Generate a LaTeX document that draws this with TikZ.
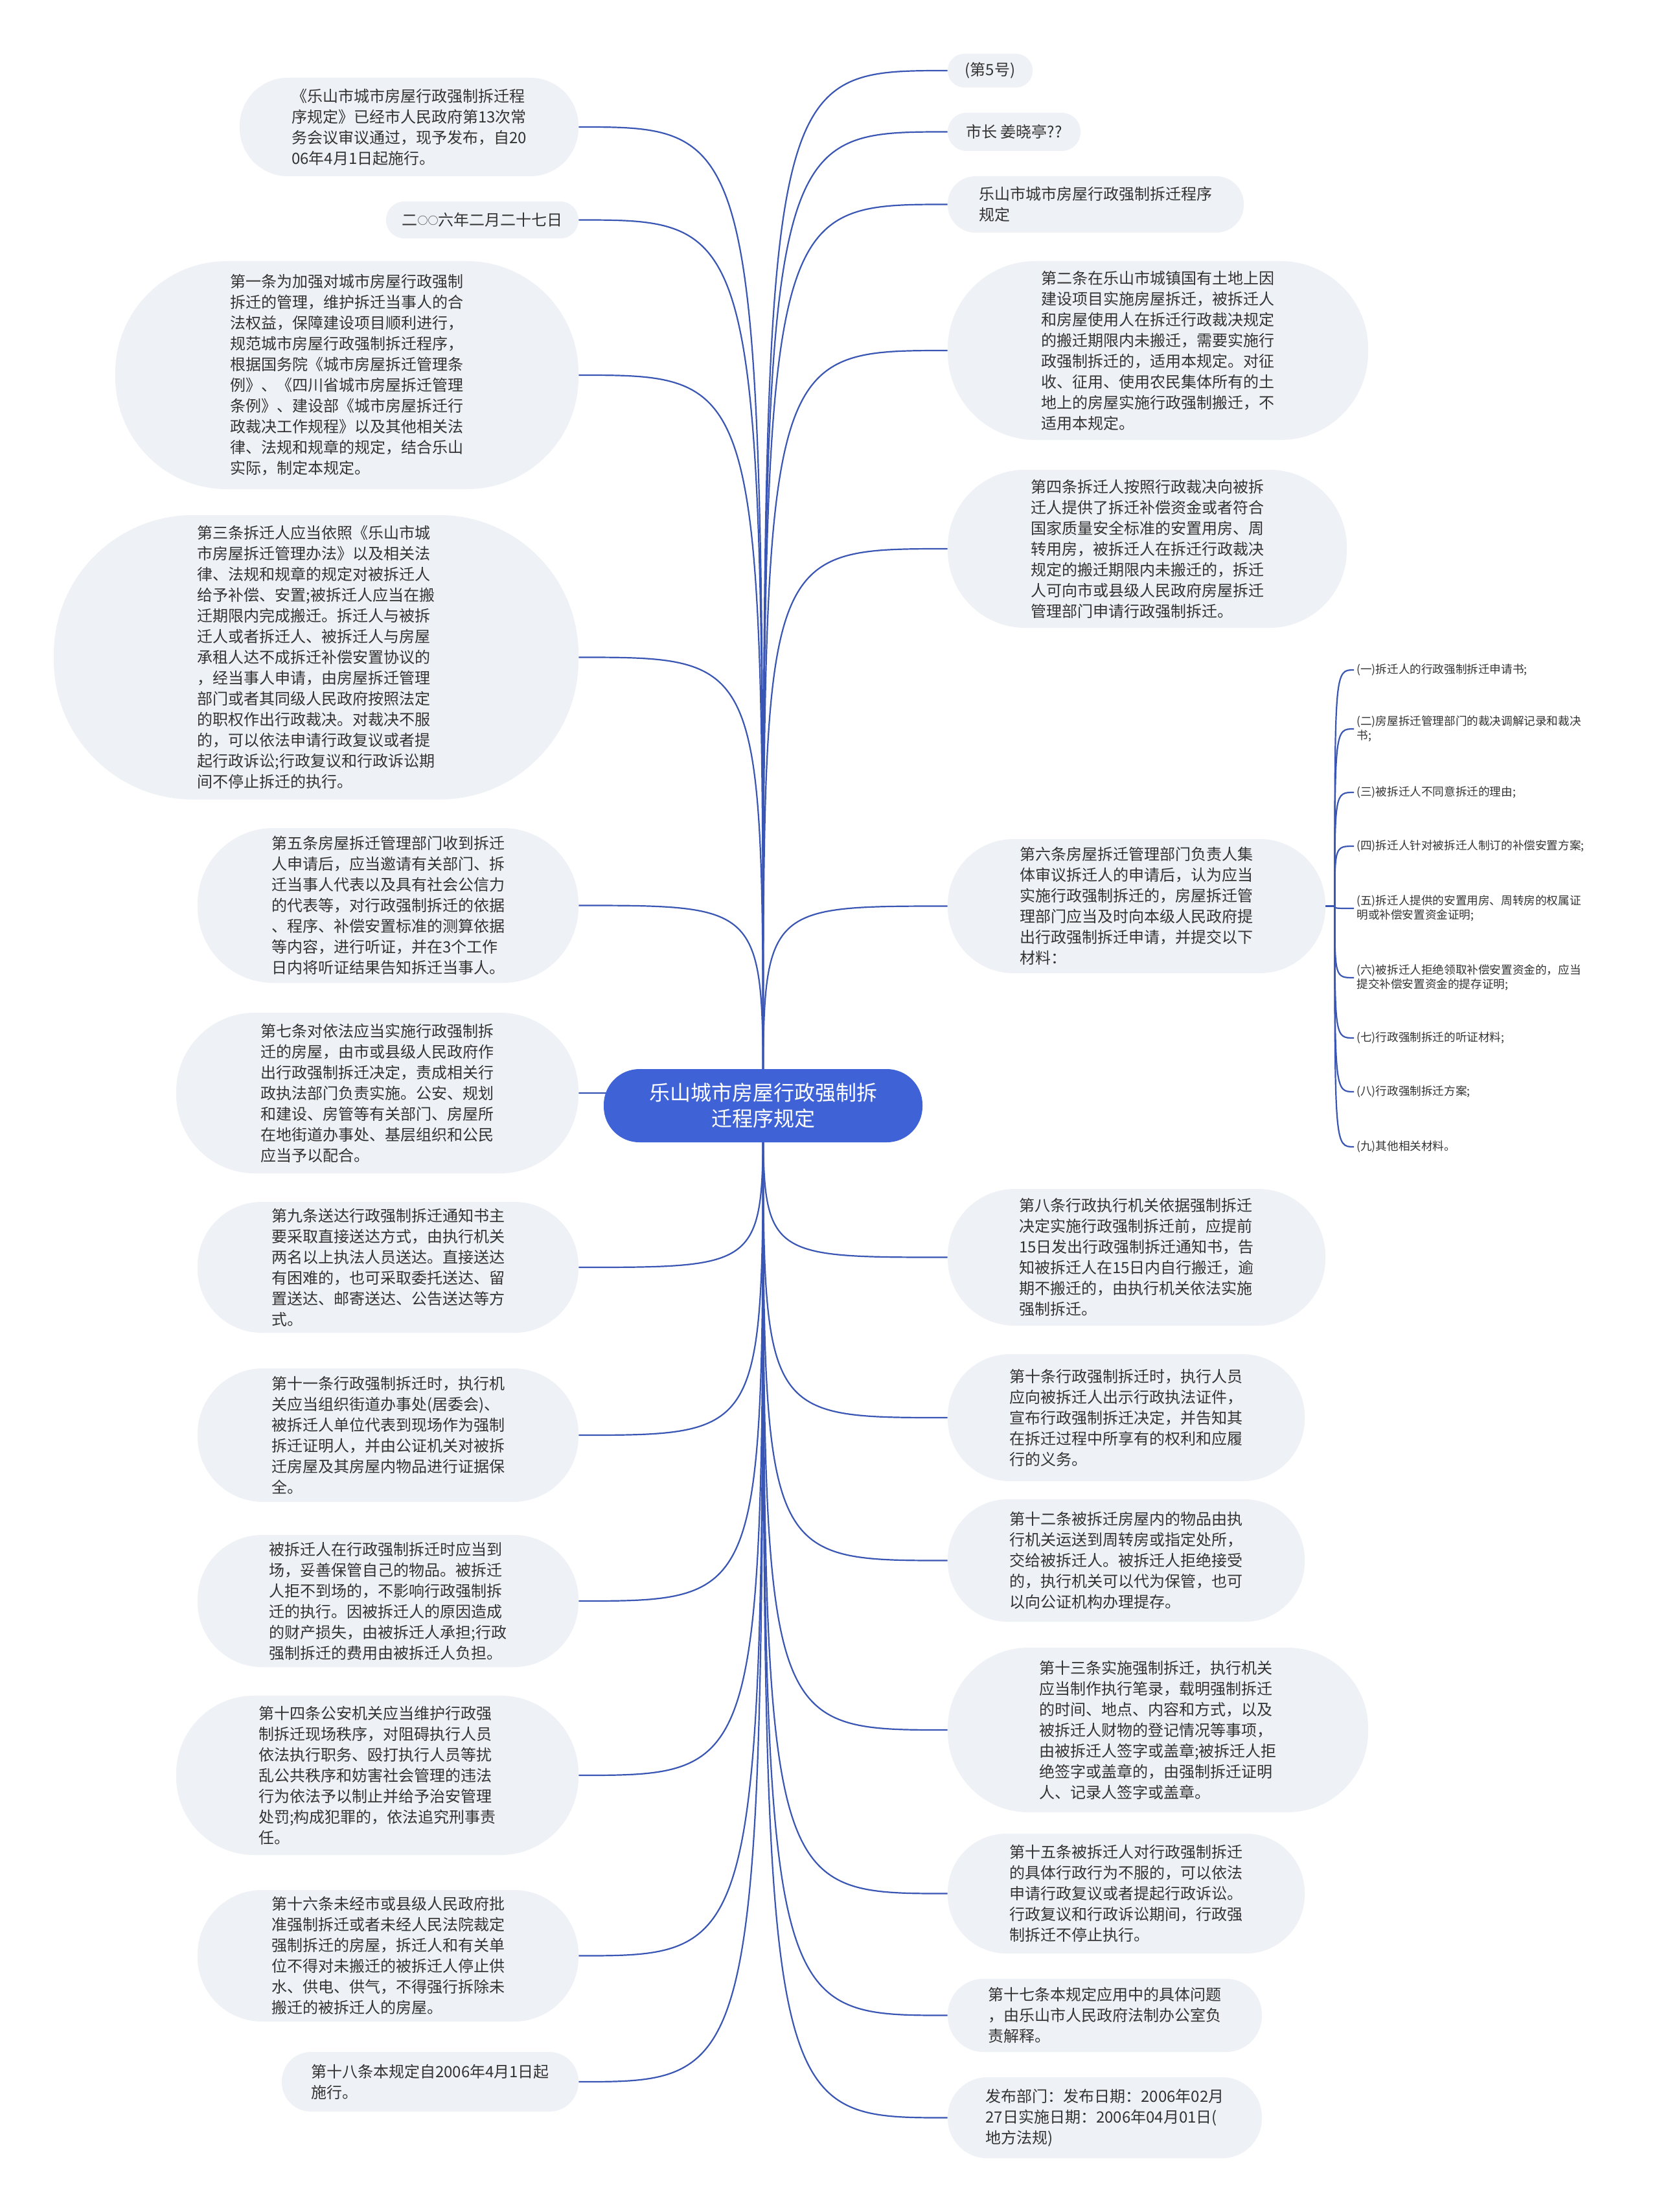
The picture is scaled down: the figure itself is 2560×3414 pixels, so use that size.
\documentclass[tikz,border=0pt]{standalone}
\usepackage{fontspec}
\setmainfont{Noto Sans CJK SC}
\usetikzlibrary{backgrounds}
\definecolor{nodefill}{HTML}{EEF1F5}
\definecolor{linecol}{HTML}{3A56B4}
\definecolor{rootfill}{HTML}{3F62D6}
\definecolor{txt}{HTML}{333333}
\begin{document}
\begin{tikzpicture}[x=0.5pt,y=-0.5pt,
  pill/.style 2 args={fill=nodefill, text=txt, align=left, inner sep=0pt,
    minimum width=#1, minimum height=#2, rounded corners=0.49*#2,
    font=\fontsize{12}{16}\selectfont},
  rootbox/.style={fill=rootfill, text=white, align=center, inner sep=0pt,
    minimum width=246pt, minimum height=56.5pt, rounded corners=27.5pt,
    font=\fontsize{16}{20}\selectfont},
  conn/.style={draw=linecol, line width=1.1pt},
  subitem/.style={text=txt, align=left, inner sep=2pt, anchor=west,
    font=\fontsize{8.8}{11}\selectfont}
]
\useasboundingbox (0,0) rectangle (2560,3414);

% root
\node[rootbox] (root) at (1178,1706.5) {乐山城市房屋行政强制拆\\迁程序规定};

% left
\node[pill={261.5pt}{76pt}] (l1) at (631.5,196) {《乐山市城市房屋行政强制拆迁程\\序规定》已经市人民政府第13次常\\务会议审议通过，现予发布，自20\\06年4月1日起施行。};
\node[pill={148.5pt}{28.5pt}] (l2) at (744.5,339.5) {二\raisebox{1pt}{\fontsize{8}{8}\selectfont ○○}六年二月二十七日};
\node[pill={357.5pt}{176pt}] (l3) at (535.5,579) {第一条为加强对城市房屋行政强制\\拆迁的管理，维护拆迁当事人的合\\法权益，保障建设项目顺利进行，\\规范城市房屋行政强制拆迁程序，\\根据国务院《城市房屋拆迁管理条\\例》、《四川省城市房屋拆迁管理\\条例》、建设部《城市房屋拆迁行\\政裁决工作规程》以及其他相关法\\律、法规和规章的规定，结合乐山\\实际，制定本规定。};
\node[pill={405pt}{219.5pt}] (l4) at (488,1014.5) {第三条拆迁人应当依照《乐山市城\\市房屋拆迁管理办法》以及相关法\\律、法规和规章的规定对被拆迁人\\给予补偿、安置;被拆迁人应当在搬\\迁期限内完成搬迁。拆迁人与被拆\\迁人或者拆迁人、被拆迁人与房屋\\承租人达不成拆迁补偿安置协议的\\，经当事人申请，由房屋拆迁管理\\部门或者其同级人民政府按照法定\\的职权作出行政裁决。对裁决不服\\的，可以依法申请行政复议或者提\\起行政诉讼;行政复议和行政诉讼期\\间不停止拆迁的执行。};
\node[pill={294pt}{119.5pt}] (l5) at (599,1397.5) {第五条房屋拆迁管理部门收到拆迁\\人申请后，应当邀请有关部门、拆\\迁当事人代表以及具有社会公信力\\的代表等，对行政强制拆迁的依据\\、程序、补偿安置标准的测算依据\\等内容，进行听证，并在3个工作\\日内将听证结果告知拆迁当事人。};
\node[pill={310.5pt}{124pt}] (l6) at (582.5,1687) {第七条对依法应当实施行政强制拆\\迁的房屋，由市或县级人民政府作\\出行政强制拆迁决定，责成相关行\\政执法部门负责实施。公安、规划\\和建设、房管等有关部门、房屋所\\在地街道办事处、基层组织和公民\\应当予以配合。};
\node[pill={294pt}{101pt}] (l7) at (599,1956) {第九条送达行政强制拆迁通知书主\\要采取直接送达方式，由执行机关\\两名以上执法人员送达。直接送达\\有困难的，也可采取委托送达、留\\置送达、邮寄送达、公告送达等方\\式。};
\node[pill={294pt}{103pt}] (l8) at (599,2215) {第十一条行政强制拆迁时，执行机\\关应当组织街道办事处(居委会)、\\被拆迁人单位代表到现场作为强制\\拆迁证明人，并由公证机关对被拆\\迁房屋及其房屋内物品进行证据保\\全。};
\node[pill={294pt}{102pt}] (l9) at (599,2471) {被拆迁人在行政强制拆迁时应当到\\场，妥善保管自己的物品。被拆迁\\人拒不到场的，不影响行政强制拆\\迁的执行。因被拆迁人的原因造成\\的财产损失，由被拆迁人承担;行政\\强制拆迁的费用由被拆迁人负担。};
\node[pill={310.5pt}{123pt}] (l10) at (582.5,2740) {第十四条公安机关应当维护行政强\\制拆迁现场秩序，对阻碍执行人员\\依法执行职务、殴打执行人员等扰\\乱公共秩序和妨害社会管理的违法\\行为依法予以制止并给予治安管理\\处罚;构成犯罪的，依法追究刑事责\\任。};
\node[pill={294pt}{101.5pt}] (l11) at (599,3018.5) {第十六条未经市或县级人民政府批\\准强制拆迁或者未经人民法院裁定\\强制拆迁的房屋，拆迁人和有关单\\位不得对未搬迁的被拆迁人停止供\\水、供电、供气，不得强行拆除未\\搬迁的被拆迁人的房屋。};
\node[pill={229pt}{46pt}] (l12) at (664,3213) {第十八条本规定自2006年4月1日起\\施行。};

% right
\node[pill={65.5pt}{26pt}] (r1) at (1528.5,109) {(第5号)};
\node[pill={102.5pt}{29.5pt}] (r2) at (1565.5,203.5) {市长 姜晓亭??};
\node[pill={228.5pt}{43.5pt}] (r3) at (1691.5,315.5) {乐山市城市房屋行政强制拆迁程序\\规定};
\node[pill={324.5pt}{138pt}] (r4) at (1787.5,541) {第二条在乐山市城镇国有土地上因\\建设项目实施房屋拆迁，被拆迁人\\和房屋使用人在拆迁行政裁决规定\\的搬迁期限内未搬迁，需要实施行\\政强制拆迁的，适用本规定。对征\\收、征用、使用农民集体所有的土\\地上的房屋实施行政强制搬迁，不\\适用本规定。};
\node[pill={308pt}{122pt}] (r5) at (1771,847) {第四条拆迁人按照行政裁决向被拆\\迁人提供了拆迁补偿资金或者符合\\国家质量安全标准的安置用房、周\\转用房，被拆迁人在拆迁行政裁决\\规定的搬迁期限内未搬迁的，拆迁\\人可向市或县级人民政府房屋拆迁\\管理部门申请行政强制拆迁。};
\node[pill={291.5pt}{103.5pt}] (r6) at (1754.5,1398.5) {第六条房屋拆迁管理部门负责人集\\体审议拆迁人的申请后，认为应当\\实施行政强制拆迁的，房屋拆迁管\\理部门应当及时向本级人民政府提\\出行政强制拆迁申请，并提交以下\\材料：};
\node[pill={291.5pt}{105.5pt}] (r7) at (1754.5,1940.5) {第八条行政执行机关依据强制拆迁\\决定实施行政强制拆迁前，应提前\\15日发出行政强制拆迁通知书，告\\知被拆迁人在15日内自行搬迁，逾\\期不搬迁的，由执行机关依法实施\\强制拆迁。};
\node[pill={275.5pt}{98pt}] (r8) at (1738.5,2188) {第十条行政强制拆迁时，执行人员\\应向被拆迁人出示行政执法证件，\\宣布行政强制拆迁决定，并告知其\\在拆迁过程中所享有的权利和应履\\行的义务。};
\node[pill={275.5pt}{94.5pt}] (r9) at (1738.5,2408.5) {第十二条被拆迁房屋内的物品由执\\行机关运送到周转房或指定处所，\\交给被拆迁人。被拆迁人拒绝接受\\的，执行机关可以代为保管，也可\\以向公证机构办理提存。};
\node[pill={324.5pt}{127pt}] (r10) at (1787.5,2670) {第十三条实施强制拆迁，执行机关\\应当制作执行笔录，载明强制拆迁\\的时间、地点、内容和方式，以及\\被拆迁人财物的登记情况等事项，\\由被拆迁人签字或盖章;被拆迁人拒\\绝签字或盖章的，由强制拆迁证明\\人、记录人签字或盖章。};
\node[pill={275.5pt}{92.5pt}] (r11) at (1738.5,2922.5) {第十五条被拆迁人对行政强制拆迁\\的具体行政行为不服的，可以依法\\申请行政复议或者提起行政诉讼。\\行政复议和行政诉讼期间，行政强\\制拆迁不停止执行。};
\node[pill={242.5pt}{56.5pt}] (r12) at (1705.5,3110.5) {第十七条本规定应用中的具体问题\\，由乐山市人民政府法制办公室负\\责解释。};
\node[pill={242.5pt}{62.5pt}] (r13) at (1705.5,3268.5) {发布部门：发布日期：2006年02月\\27日实施日期：2006年04月01日(\\地方法规)};

% sub list of r6
\coordinate (br) at ([xshift=7pt]r6.east);
\node[subitem] (s1) at (2090,1034) {(一)拆迁人的行政强制拆迁申请书;};
\node[subitem] (s2) at (2090,1125) {(二)房屋拆迁管理部门的裁决调解记录和裁决\\书;};
\node[subitem] (s3) at (2090,1223) {(三)被拆迁人不同意拆迁的理由;};
\node[subitem] (s4) at (2090,1306) {(四)拆迁人针对被拆迁人制订的补偿安置方案;};
\node[subitem] (s5) at (2090,1402) {(五)拆迁人提供的安置用房、周转房的权属证\\明或补偿安置资金证明;};
\node[subitem] (s6) at (2090,1509) {(六)被拆迁人拒绝领取补偿安置资金的，应当\\提交补偿安置资金的提存证明;};
\node[subitem] (s7) at (2090,1602) {(七)行政强制拆迁的听证材料;};
\node[subitem] (s8) at (2090,1685) {(八)行政强制拆迁方案;};
\node[subitem] (s9) at (2090,1770) {(九)其他相关材料。};

% connectors on background
\begin{scope}[on background layer]
  \fill[white] (0,0) rectangle (2560,3414);
  \foreach \n in {l1,l2,l3,l4,l5,l6,l7,l8,l9,l10,l11,l12}
    \draw[conn] (root.center) .. controls (root.center |- \n.east) .. (\n.east);
  \foreach \n in {r1,r2,r3,r4,r5,r6,r7,r8,r9,r10,r11,r12,r13}
    \draw[conn] (root.center) .. controls (root.center |- \n.west) .. (\n.west);
  \draw[conn] (r6.east) -- (br);
  \foreach \n in {s1,s2,s3,s4,s5,s6,s7,s8,s9}
    \draw[conn] (br) .. controls (br |- \n.west) .. (\n.west);
\end{scope}
\end{tikzpicture}
\end{document}
